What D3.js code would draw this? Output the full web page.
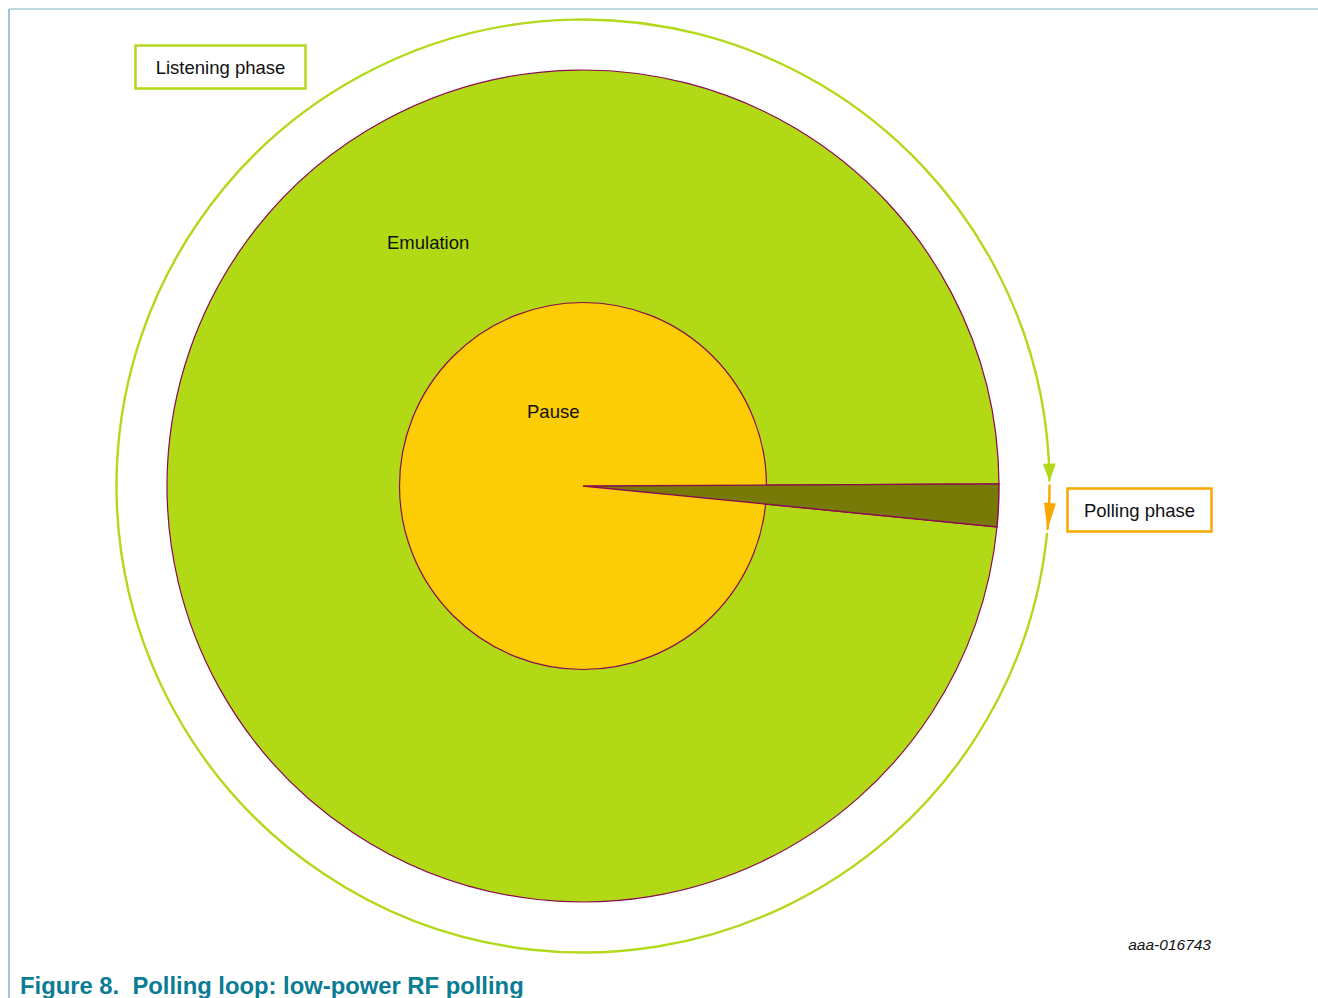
<!DOCTYPE html>
<html lang="en">
<head>
    <meta charset="UTF-8">
    <title>Polling loop: low-power RF polling</title>
    <script src="https://d3js.org/d3.v7.min.js"></script>
    <style>
        body { margin: 0; background: #fff; }
        svg text { font-family: "Liberation Sans", Arial, sans-serif; }
    </style>
</head>
<body>
<svg width="1318" height="998"></svg>
<script>
    // share of one loop cycle (percent) spent in each phase
    const phases = ["Polling", "Emulation"];
    const shares = [1.65, 98.35];
    const phaseColors = ["#777a07", "#b2d916"];
    const pauseShare = 100;     // pause circle, drawn inside emulation
    const labels = ["Listening phase", "Polling phase", "Emulation", "Pause"];
    const figureId = "aaa-016743";
    const caption = "Figure 8.  Polling loop: low-power RF polling";

    const svg = d3.select("svg");
    const cx = 583, cy = 486;
    const rOuter = 416, rPause = 183.5, rLoop = 466.5;
    const stroke = "#8b0a50";
    const loopGreen = "#b3d91c", loopOrange = "#f9a800";

    // frame lines
    svg.append("line").attr("x1", 9).attr("y1", 9).attr("x2", 1318).attr("y2", 9)
        .attr("stroke", "#7ab4c4").attr("stroke-width", 1);
    svg.append("line").attr("x1", 9).attr("y1", 9).attr("x2", 9).attr("y2", 998)
        .attr("stroke", "#3f93a8").attr("stroke-width", 1);

    // percent -> angle, polling starts just above 3 o'clock
    const start = Math.PI / 2 - 0.005;
    const angle = d3.scaleLinear().domain([0, 100]).range([start, start + 2 * Math.PI]);

    const pie = d3.pie().sort(null).value(d => d)
        .startAngle(angle(0)).endAngle(angle(100));
    const slices = pie(shares);

    const g = svg.append("g").attr("transform", `translate(${cx},${cy})`);
    const arc = d3.arc().innerRadius(0).outerRadius(rOuter);

    // emulation slice
    g.append("path").attr("d", arc(slices[1]))
        .attr("fill", phaseColors[1]).attr("stroke", stroke).attr("stroke-width", 1.2);
    // pause circle
    g.append("path")
        .attr("d", d3.arc().innerRadius(0).outerRadius(rPause)({startAngle: 0, endAngle: angle(pauseShare) - angle(0)}))
        .attr("fill", "#fccc04").attr("stroke", stroke).attr("stroke-width", 1.2);
    // polling slice on top
    g.append("path").attr("d", arc(slices[0]))
        .attr("fill", phaseColors[0]).attr("stroke", stroke).attr("stroke-width", 1.4)
        .attr("stroke-linejoin", "miter");

    // outer loop ring with arrows
    const ring = d3.arc().innerRadius(rLoop).outerRadius(rLoop);
    const gap = 0.0045;
    const pollEnd = slices[0].endAngle - 0.0045;
    const greenStart = pollEnd + gap + 0.002;
    const greenEnd = start + 2 * Math.PI - gap;
    g.append("path").attr("d", ring({startAngle: greenStart, endAngle: greenEnd}))
        .attr("fill", "none").attr("stroke", loopGreen).attr("stroke-width", 2.4);
    g.append("path").attr("d", ring({startAngle: start + 0.002, endAngle: pollEnd}))
        .attr("fill", "none").attr("stroke", loopOrange).attr("stroke-width", 2.4);

    function arrowHead(a, len, half, color) {
        // tip on the ring at angle a, pointing clockwise
        const tx = rLoop * Math.sin(a), ty = -rLoop * Math.cos(a);
        const dx = Math.cos(a), dy = Math.sin(a);       // tangent (clockwise)
        const nx = Math.sin(a), ny = -Math.cos(a);      // radial
        const bx = tx - dx * len, by = ty - dy * len;
        g.append("path")
            .attr("d", `M${tx},${ty}L${bx + nx * half},${by + ny * half}L${bx - nx * half},${by - ny * half}Z`)
            .attr("fill", color);
    }
    arrowHead(greenEnd, 18, 6.5, loopGreen);
    arrowHead(pollEnd, 27, 6, loopOrange);

    // label boxes
    function box(x, y, w, h, color, text) {
        svg.append("rect").attr("x", x).attr("y", y).attr("width", w).attr("height", h)
            .attr("fill", "#fff").attr("stroke", color).attr("stroke-width", 2.5);
        svg.append("text").attr("x", x + w / 2).attr("y", y + h / 2 + 6.5)
            .attr("text-anchor", "middle").attr("font-size", 18.5).attr("fill", "#111").text(text);
    }
    box(135.5, 45.5, 170, 43, loopGreen, labels[0]);
    box(1067.5, 488.5, 144, 43, loopOrange, labels[1]);

    svg.append("text").attr("x", 387).attr("y", 249).attr("font-size", 18.5)
        .attr("fill", "#111").text(labels[2]);
    svg.append("text").attr("x", 527).attr("y", 418).attr("font-size", 18.5)
        .attr("fill", "#111").text(labels[3]);

    svg.append("text").attr("x", 1211).attr("y", 950).attr("text-anchor", "end")
        .attr("font-size", 15.5).attr("font-style", "italic").attr("fill", "#111").text(figureId);

    svg.append("text").attr("x", 20).attr("y", 994).attr("font-size", 23.8)
        .attr("font-weight", "bold").attr("fill", "#0a7d93")
        .attr("xml:space", "preserve").style("white-space", "pre").text(caption);
</script>
</body>
</html>
